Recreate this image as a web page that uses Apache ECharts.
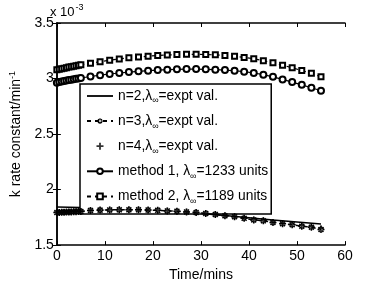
<!DOCTYPE html>
<html><head><meta charset="utf-8">
<script src="https://cdn.jsdelivr.net/npm/echarts@6/dist/echarts.min.js"></script>
<style>html,body{margin:0;padding:0;background:#fff}#c{width:382px;height:287px}</style>
</head><body><div id="c"></div>
<script>
// values in units of 1e-3 min^-1
const times = [0,0.5,1,1.5,2,2.5,3,3.5,4,4.5,5,7,9,11,13,15,17,19,21,23,25,27,29,31,33,35,37,39,41,43,45,47,49,51,53,55];
const method1 = [2.963,2.968,2.973,2.977,2.982,2.986,2.990,2.994,2.998,3.001,3.005,3.018,3.030,3.041,3.050,3.058,3.065,3.071,3.076,3.080,3.083,3.085,3.085,3.083,3.080,3.076,3.070,3.062,3.050,3.035,3.015,2.992,2.968,2.943,2.917,2.890];
const method2 = [3.078,3.083,3.088,3.093,3.098,3.103,3.107,3.111,3.115,3.119,3.123,3.138,3.152,3.165,3.176,3.186,3.194,3.201,3.207,3.212,3.216,3.218,3.218,3.216,3.213,3.208,3.200,3.190,3.178,3.160,3.142,3.120,3.097,3.072,3.047,3.015];
const n2Times = [0,5,10,15,20,25,30,35,40,45,50,55];
const n2Vals = [1.842,1.838,1.833,1.825,1.814,1.800,1.785,1.767,1.747,1.727,1.708,1.690];
const n3Vals = [1.793,1.794,1.795,1.796,1.797,1.798,1.799,1.800,1.801,1.802,1.803,1.812,1.815,1.817,1.818,1.818,1.818,1.816,1.813,1.808,1.805,1.799,1.793,1.785,1.776,1.764,1.756,1.741,1.727,1.719,1.704,1.693,1.684,1.670,1.661,1.641];
const n4Vals = [1.795,1.796,1.797,1.798,1.799,1.800,1.801,1.802,1.803,1.804,1.805,1.813,1.816,1.818,1.819,1.819,1.818,1.816,1.813,1.809,1.805,1.800,1.794,1.786,1.777,1.766,1.757,1.743,1.729,1.721,1.707,1.697,1.688,1.676,1.668,1.652];
const xTicks = [0,10,20,30,40,50,60];
const yTicks = [1.5,2,2.5,3,3.5];
const legendNames = ['n=2,λ{s|∞}=expt val.','n=3,λ{s|∞}=expt val.','n=4,λ{s|∞}=expt val.','method 1, λ{s|∞}=1233 units','method 2, λ{s|∞}=1189 units'];

const pair = (xs, ys) => xs.map((x, i) => [x, ys[i]]);
const FONT = '"Liberation Sans", Arial, sans-serif';
const plusPath = 'path://M-1.3,-5H1.3V-1.3H5V1.3H1.3V5H-1.3V1.3H-5V-1.3H-1.3Z';
const starPath = 'path://M-1.1,-5H1.1V5H-1.1Z M-5,-1.1H5V1.1H-5Z M-4.3,-2.7L2.7,4.3L4.3,2.7L-2.7,-4.3Z M-2.7,4.3L4.3,-2.7L2.7,-4.3L-4.3,2.7Z';
const barPath = 'path://M0,0H26V1.8H0Z';

const chart = echarts.init(document.getElementById('c'), null, {renderer: 'canvas'});
const axisCommon = {
  axisLine: {show: true, lineStyle: {color: '#000', width: 1.5}},
  axisTick: {show: true, inside: true, length: 4, lineStyle: {color: '#000', width: 1}},
  splitLine: {show: false}
};
chart.setOption({
  animation: false,
  backgroundColor: '#fff',
  grid: {left: 50, right: 37, top: 23, bottom: 33},
  xAxis: [
    Object.assign({type: 'value', min: 0, max: 60, interval: 10, position: 'bottom',
      name: 'Time/mins', nameLocation: 'middle', nameGap: 17,
      nameTextStyle: {fontFamily: FONT, fontSize: 14, color: '#000'},
      axisLabel: {fontFamily: FONT, fontSize: 14, color: '#000', margin: 4,
        formatter: v => xTicks.includes(v) ? String(v) : ''}}, axisCommon),
    Object.assign({type: 'value', min: 0, max: 60, interval: 10, position: 'top', axisLabel: {show: false}}, axisCommon)
  ],
  yAxis: [
    Object.assign({type: 'value', min: 1.5, max: 3.5, interval: 0.5, position: 'left',
      name: 'k rate constant/min{sup|-1}', nameLocation: 'middle', nameGap: 28, nameRotate: 90,
      nameTextStyle: {fontFamily: FONT, fontSize: 14, color: '#000',
        rich: {sup: {fontFamily: FONT, fontSize: 9, color: '#000', verticalAlign: 'top', padding: [0,0,8,0]}}},
      axisLabel: {fontFamily: FONT, fontSize: 14, color: '#000', margin: 3,
        formatter: v => yTicks.includes(v) ? String(v) : ''}}, axisCommon),
    Object.assign({type: 'value', min: 1.5, max: 3.5, interval: 0.5, position: 'right', axisLabel: {show: false}}, axisCommon)
  ],
  legend: {
    orient: 'vertical', left: 80, top: 84,
    padding: [5, 3, 8, 6], itemGap: 8.6, itemWidth: 26, itemHeight: 7,
    borderColor: '#000', borderWidth: 1.5, backgroundColor: '#fff',
    data: [
      {name: legendNames[0], icon: barPath},
      {name: legendNames[1]},
      {name: legendNames[2]},
      {name: legendNames[3]},
      {name: legendNames[4]}
    ],
    textStyle: {fontFamily: FONT, fontSize: 13.8, color: '#000',
      rich: {s: {fontFamily: FONT, fontSize: 9, color: '#000', padding: [10, 0, 0, 0]}}}
  },
  graphic: [{
    type: 'text', left: 50, top: 3,
    style: {text: 'x 10{e|-3}', font: '13px ' + FONT, fill: '#000',
      rich: {e: {fontSize: 9, fontFamily: FONT, fill: '#000', padding: [0, 0, 9, 1]}}}
  }],
  series: [
    {name: legendNames[0], type: 'line', data: pair(n2Times, n2Vals), showSymbol: false, symbol: 'none',
      lineStyle: {color: '#000', width: 1.5}, itemStyle: {color: '#000'}, z: 3},
    {name: legendNames[1], type: 'line', data: pair(times, n3Vals), symbol: starPath, symbolSize: 7, symbolKeepAspect: true,
      lineStyle: {color: '#000', width: 1.5, type: [4, 4]}, itemStyle: {color: '#000'}, z: 4},
    {name: legendNames[2], type: 'scatter', data: pair(times, n4Vals), symbol: plusPath, symbolSize: 6, symbolKeepAspect: true,
      itemStyle: {color: '#000'}, z: 5},
    {name: legendNames[3], type: 'line', data: pair(times, method1), symbol: 'emptyCircle', symbolSize: 6, showAllSymbol: true,
      lineStyle: {color: '#000', width: 1.2}, itemStyle: {color: '#000', borderColor: '#000', borderWidth: 1.2}},
    {name: legendNames[4], type: 'line', data: pair(times, method2), symbol: 'emptyRect', symbolSize: 5, showAllSymbol: true,
      lineStyle: {color: '#000', width: 1.2, type: [4, 4]}, itemStyle: {color: '#000', borderColor: '#000', borderWidth: 1.2}}
  ]
});
</script></body></html>
